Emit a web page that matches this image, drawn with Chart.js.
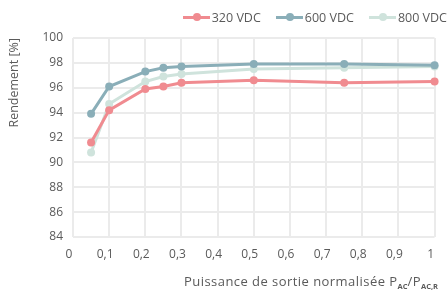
<!DOCTYPE html>
<html>
<head>
<meta charset="utf-8">
<script src="https://cdn.jsdelivr.net/npm/chart.js@4.4.1/dist/chart.umd.min.js"></script>
<style>
  html, body { margin: 0; padding: 0; background: #fff; }
  #wrap { position: relative; width: 448px; height: 291px; }
  #chart { position: relative; z-index: 1; }
  #vgrid { position: absolute; left: 0; top: 0; width: 448px; height: 291px; z-index: 0; }
  #vgrid div { position: absolute; width: 2px; background: #ebebeb; }
  #legend {
    position: absolute; right: 1px; top: 8px; height: 18px; z-index: 2;
    display: flex; align-items: center;
    font-family: "Open Sans", sans-serif; font-size: 12.5px; color: #5a5a5a;
  }
  .item { display: flex; align-items: center; margin-left: 15px; white-space: nowrap; }
  .swatch { position: relative; width: 27px; height: 3px; margin-right: 2px; }
  .swatch i { position: absolute; left: 10px; top: -2.5px; width: 8px; height: 8px; border-radius: 50%; }
  #xtitle {
    position: absolute; right: 10px; top: 274px; z-index: 2;
    font-family: "Open Sans", sans-serif; font-size: 13px; line-height: 15px;
    letter-spacing: 0.45px; color: #5a5a5a; white-space: nowrap;
  }
  #xtitle sub { font-size: 7.5px; font-weight: bold; line-height: 0; vertical-align: -3px; letter-spacing: 0; }
</style>
</head>
<body>
<div id="wrap">
  <div id="vgrid"></div>
  <canvas id="chart" width="448" height="291"></canvas>
  <div id="legend"></div>
  <div id="xtitle">Puissance de sortie normalisée P<sub>AC</sub>/P<sub>AC,R</sub></div>
</div>
<script>
// charge normalisée (P_AC / P_AC,R)
const loads = [0.05, 0.1, 0.2, 0.25, 0.3, 0.5, 0.75, 1.0];

// rendement [%]
const eff320 = [91.6, 94.2, 95.9, 96.1, 96.4, 96.6, 96.4, 96.5];
const eff600 = [93.9, 96.1, 97.3, 97.6, 97.7, 97.9, 97.9, 97.8];
const eff800 = [90.8, 94.7, 96.5, 96.9, 97.1, 97.5, 97.6, 97.7];

const seriesNames = ['320 VDC', '600 VDC', '800 VDC'];
const seriesColors = ['#f08b90', '#8aaeb8', '#cfe3dc'];

const xTicks = [0, 0.1, 0.2, 0.3, 0.4, 0.5, 0.6, 0.7, 0.8, 0.9, 1];
const yTicks = [84, 86, 88, 90, 92, 94, 96, 98, 100];

const fontFamily = '"Open Sans", sans-serif';
const textColor = '#5a5a5a';
const gridColor = '#ebebeb';

function toPoints(values) {
    return values.map((v, i) => ({ x: loads[i], y: v }));
}

const allSeries = [eff320, eff600, eff800];
const datasets = allSeries.map((vals, i) => ({
    label: seriesNames[i],
    data: toPoints(vals),
    borderColor: seriesColors[i],
    backgroundColor: seriesColors[i],
    pointBackgroundColor: seriesColors[i],
    pointBorderWidth: 0,
    pointRadius: 4,
    borderWidth: 3,
    tension: 0,
    clip: false
}));

// legend (html, top right)
const legendBox = document.getElementById('legend');
seriesNames.forEach((name, i) => {
    const item = document.createElement('span');
    item.className = 'item';
    const sw = document.createElement('span');
    sw.className = 'swatch';
    sw.style.background = seriesColors[i];
    const dot = document.createElement('i');
    dot.style.background = seriesColors[i];
    sw.appendChild(dot);
    item.appendChild(sw);
    item.appendChild(document.createTextNode(name));
    legendBox.appendChild(item);
});

function tickLabel(value) {
    if (value === 0) return '0';
    if (Math.abs(value - 1) < 1e-9) return '1';
    return value.toFixed(1).replace('.', ',');
}

const chart = new Chart(document.getElementById('chart').getContext('2d'), {
    type: 'line',
    data: { datasets: datasets },
    options: {
        responsive: false,
        animation: false,
        layout: { padding: { left: 0, right: 5, top: 38, bottom: 0 } },
        plugins: {
            tooltip: { enabled: false },
            legend: { display: false }
        },
        scales: {
            x: {
                type: 'linear',
                min: xTicks[0],
                max: xTicks[xTicks.length - 1],
                afterBuildTicks: function (axis) {
                    axis.ticks = xTicks.map(v => ({ value: v }));
                },
                afterFit: function (axis) { axis.height = 54; },
                ticks: {
                    color: textColor,
                    font: { family: fontFamily, size: 12 },
                    padding: 10,
                    labelOffset: -4,
                    maxRotation: 0,
                    autoSkip: false,
                    callback: tickLabel
                },
                grid: { color: gridColor, lineWidth: 2, drawTicks: false },
                border: { display: false }
            },
            y: {
                min: yTicks[0],
                max: yTicks[yTicks.length - 1],
                afterBuildTicks: function (axis) {
                    axis.ticks = yTicks.map(v => ({ value: v }));
                },
                afterFit: function (axis) { axis.width = 73; },
                ticks: {
                    color: textColor,
                    font: { family: fontFamily, size: 12 },
                    padding: 10
                },
                grid: { color: gridColor, lineWidth: 2, drawTicks: false },
                border: { display: false },
                title: {
                    display: true,
                    text: 'Rendement [%]',
                    align: 'end',
                    color: textColor,
                    font: { family: fontFamily, size: 12.5 },
                    padding: { top: 7, bottom: 4 }
                }
            }
        }
    }
});

// vertical grid lines under the (transparent) canvas, placed from the x scale
const vgrid = document.getElementById('vgrid');
const area = chart.chartArea;
xTicks.forEach(v => {
    const px = chart.scales.x.getPixelForValue(v);
    const line = document.createElement('div');
    line.style.left = (Math.round(px) - 1) + 'px';
    line.style.top = area.top + 'px';
    line.style.height = (area.bottom - area.top) + 'px';
    vgrid.appendChild(line);
});
</script>
</body>
</html>
